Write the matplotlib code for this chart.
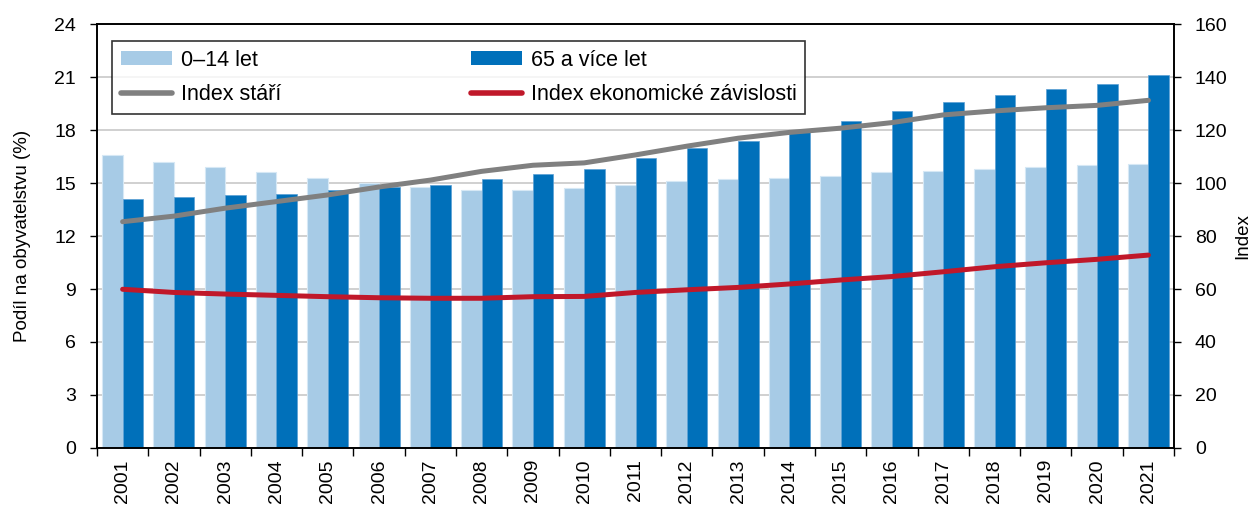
import matplotlib
matplotlib.use("Agg")
import matplotlib.pyplot as plt
import numpy as np
from matplotlib.patches import Patch
from matplotlib.lines import Line2D

plt.rcParams['font.family'] = ['Liberation Sans', 'DejaVu Sans']

years = [str(y) for y in range(2001, 2022)]
share_0_14 = [16.6, 16.2, 15.9, 15.6, 15.3, 15.0, 14.8, 14.6, 14.6, 14.7, 14.9,
              15.1, 15.2, 15.3, 15.4, 15.6, 15.7, 15.8, 15.9, 16.0, 16.1]
share_65 = [14.1, 14.2, 14.3, 14.4, 14.6, 14.8, 14.9, 15.2, 15.5, 15.8, 16.4,
            17.0, 17.4, 18.0, 18.5, 19.1, 19.6, 20.0, 20.3, 20.6, 21.1]
index_stari = [85.4, 87.5, 90.5, 93.0, 95.5, 98.5, 101.1, 104.4, 106.7, 107.6, 110.6,
               113.9, 116.9, 119.1, 120.7, 122.8, 125.7, 127.2, 128.4, 129.3, 131.2]
index_ez = [59.9, 58.7, 58.1, 57.6, 57.1, 56.7, 56.5, 56.5, 57.1, 57.2, 58.7,
            59.7, 60.6, 61.9, 63.4, 64.7, 66.5, 68.4, 69.9, 71.2, 72.8]

c_light = '#A7CBE6'
c_dark = '#0070BA'
c_gray = '#808080'
c_red = '#C0182A'

fig = plt.figure(figsize=(12.53, 5.11), dpi=100)
ax = fig.add_axes([0.0774, 0.1233, 0.8596, 0.8297])
ax2 = ax.twinx()

x = np.arange(len(years))
w = 0.4
ax.bar(x - w/2, share_0_14, w, color=c_light, edgecolor='#D6E8F5', linewidth=0.8, zorder=2)
ax.bar(x + w/2, share_65, w, color=c_dark, edgecolor='#5A9FD4', linewidth=0.5, zorder=2)

ax2.plot(x, index_stari, color=c_gray, lw=3.6, solid_capstyle='round', zorder=3)
ax2.plot(x, index_ez, color=c_red, lw=3.6, solid_capstyle='round', zorder=3)

ax.set_xlim(-0.5, len(years) - 0.5)
ax.set_ylim(0, 24)
ax.set_yticks(np.arange(0, 25, 3))
ax2.set_ylim(0, 160)
ax2.set_yticks(np.arange(0, 161, 20))

ax.set_xticks(x)
ax.set_xticklabels(years, rotation=90, fontsize=14)
ax.set_xticks(np.arange(-0.5, len(years)), minor=True)
ax.tick_params(axis='x', which='major', length=0, pad=8)
ax.tick_params(axis='x', which='minor', length=6, width=1, direction='out')
ax.tick_params(axis='y', labelsize=14, length=5, width=1, direction='out', pad=10)
ax2.tick_params(axis='y', labelsize=14, length=5, width=1, direction='out', pad=10)

ax.yaxis.grid(True, color='#C8C8C8', lw=1.2, zorder=0)
ax.set_axisbelow(True)
for sp in list(ax.spines.values()) + list(ax2.spines.values()):
    sp.set_color('black')
    sp.set_linewidth(1.2)

ax.set_ylabel('Podíl na obyvatelstvu (%)', fontsize=13.5, labelpad=17)
ax2.set_ylabel('Index', fontsize=13.5, labelpad=5)

handles = [Patch(facecolor=c_light, edgecolor='none'),
           Line2D([0], [0], color=c_gray, lw=4, solid_capstyle='round'),
           Patch(facecolor=c_dark, edgecolor='none'),
           Line2D([0], [0], color=c_red, lw=4, solid_capstyle='round')]
labels = ['0–14 let', 'Index stáří', '65 a více let', 'Index ekonomické závislosti']
leg = ax2.legend(handles, labels, ncol=2, loc='upper left', bbox_to_anchor=(0.014, 0.960),
                 borderaxespad=0, fontsize=15.5, frameon=True, fancybox=False, edgecolor='black',
                 handlelength=2.4, handleheight=0.6, columnspacing=8.8, borderpad=0.4,
                 labelspacing=0.62, handletextpad=0.4)
leg.get_frame().set_linewidth(1.2)

fig.savefig('out.png', dpi=100)
